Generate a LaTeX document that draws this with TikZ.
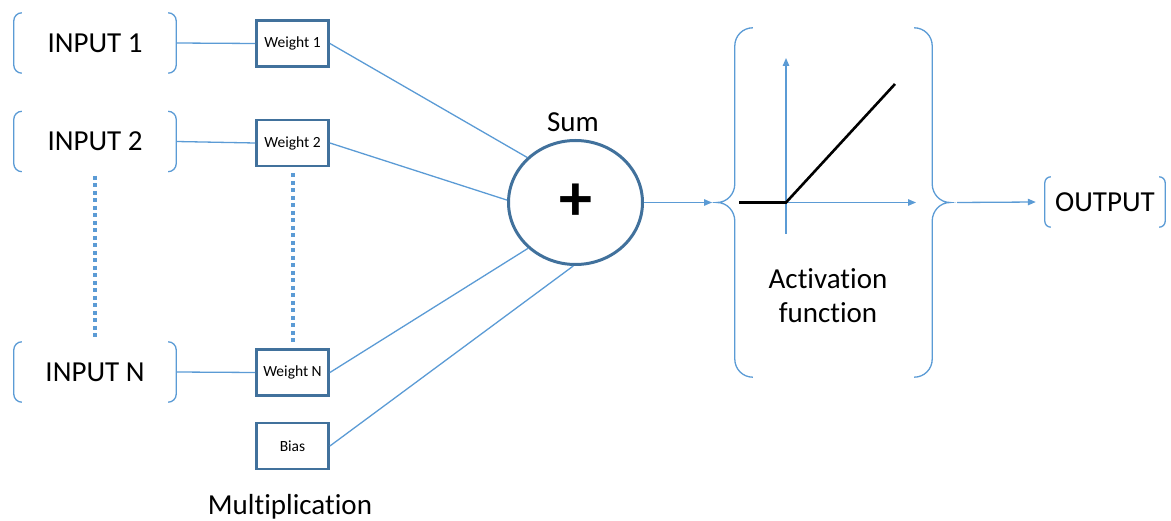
\documentclass[tikz,border=0pt]{standalone}
\usepackage{fontspec}
\setmainfont{Carlito}[RawFeature={-liga;-clig;-calt;-dlig}]
\usetikzlibrary{arrows.meta,shapes.geometric}
\definecolor{lblue}{HTML}{5B9BD5}
\definecolor{dblue}{HTML}{41719C}
\newcommand{\bigtxt}{\fontsize{29}{33}\selectfont}
\newcommand{\bracketsround}[2]{%
  \draw[brk] ([xshift=#2]#1.north west) to[out=180,in=90] ([yshift=-#2]#1.north west)
    -- ([yshift=#2]#1.south west) to[out=-90,in=180] ([xshift=#2]#1.south west);
  \draw[brk] ([xshift=-#2]#1.north east) to[out=0,in=90] ([yshift=-#2]#1.north east)
    -- ([yshift=#2]#1.south east) to[out=-90,in=0] ([xshift=-#2]#1.south east);}
\tikzset{
  brk/.style={draw=lblue, line width=1.3pt},
  inbox/.style={minimum width=162pt, minimum height=60pt, inner sep=0pt, font=\bigtxt},
  wbox/.style={draw=dblue, line width=2.8pt, minimum width=72pt, minimum height=46pt, inner sep=0pt, font=\fontsize{15.5}{17}\selectfont},
  conn/.style={draw=lblue, line width=1.3pt},
  arr/.style={conn, -{Triangle[length=8pt,width=6.5pt]}},
  dots/.style={draw=lblue, line width=4pt, dash pattern=on 4pt off 3.5pt},
  lbl/.style={font=\bigtxt, inner sep=0pt},
}
\begin{document}
\begin{tikzpicture}[x=1pt,y=-1pt]
\useasboundingbox (0,0) rectangle (1171,521);
% inputs
\node[inbox] (in1) at (95,43) {INPUT 1};
\node[inbox] (in2) at (95,141.5) {INPUT 2};
\node[inbox] (inN) at (95,372) {INPUT N};
\bracketsround{in1}{8}
\bracketsround{in2}{8}
\bracketsround{inN}{8}
% weights
\node[wbox] (w1) at (292.5,43.5) {Weight 1};
\node[wbox] (w2) at (292.5,143) {Weight 2};
\node[wbox] (wN) at (292.5,372.5) {Weight N};
\node[wbox] (bias) at (292.5,446) {Bias};
\node[lbl] (mult) at (290,507) {Multiplication};
\draw[conn] (in1.east) -- (w1.west);
\draw[conn] (in2.east) -- (w2.west);
\draw[conn] (inN.east) -- (wN.west);
% dotted
\draw[dots] ([yshift=-4pt]in2.south) -- ([yshift=4pt]inN.north);
\draw[dots] ([yshift=-6pt]w2.south) -- ([yshift=6pt]wN.north);
% sum
\node[ellipse, draw=dblue, line width=3pt, minimum width=134pt, minimum height=124pt, inner sep=0pt,
      font=\fontsize{66}{66}\selectfont\bfseries] (sum) at (575.5,202.5) {+};
\node[lbl] (sumlbl) at (573,122) {Sum};
\draw[conn] (w1.east) -- (sum.137);
\draw[conn] (w2.east) -- (sum.178);
\draw[conn] (wN.east) -- (sum.224);
\draw[conn] (bias.east) -- (sum.268);
% activation
\node[minimum width=197pt, minimum height=349pt, inner sep=0pt] (act) at (833.5,202.5) {};
\coordinate (actL) at (717,202.5);
\coordinate (actR) at (950,202.5);
\draw[brk] ([xshift=18]act.north west) to[out=180,in=90] ([yshift=-18]act.north west)
  -- ([yshift=-156]act.north west) to[out=-90,in=0] (actL) to[out=0,in=90] ([yshift=156]act.south west)
  -- ([yshift=18]act.south west) to[out=-90,in=180] ([xshift=18]act.south west);
\draw[brk] ([xshift=-18]act.north east) to[out=0,in=90] ([yshift=-18]act.north east)
  -- ([yshift=-156]act.north east) to[out=-90,in=180] (actR) to[out=180,in=90] ([yshift=156]act.south east)
  -- ([yshift=18]act.south east) to[out=-90,in=0] ([xshift=-18]act.south east);
\coordinate (orig) at (786,202.5);
\coordinate (yend) at (786,58);
\coordinate (ybot) at (786,234);
\coordinate (xbeg) at (739,202.5);
\coordinate (xend) at (916,202.5);
\coordinate (rtop) at (895,84);
\draw[arr] (ybot) -- (yend);
\draw[arr] (xbeg) -- (xend);
\draw[line width=2.6pt] (xbeg) -- (orig) -- (rtop);
\node[lbl, align=center, font=\fontsize{29}{34}\selectfont] (actlbl) at (828,296) {Activation\\function};
\draw[arr] (sum.east) -- ([xshift=-5pt]actL);
% output
\node[inbox, minimum width=120pt, minimum height=50pt] (out) at (1105,202) {OUTPUT};
\bracketsround{out}{6}
\draw[arr] ([xshift=7pt]actR) -- ([xshift=-9pt]out.west);
\end{tikzpicture}
\end{document}
